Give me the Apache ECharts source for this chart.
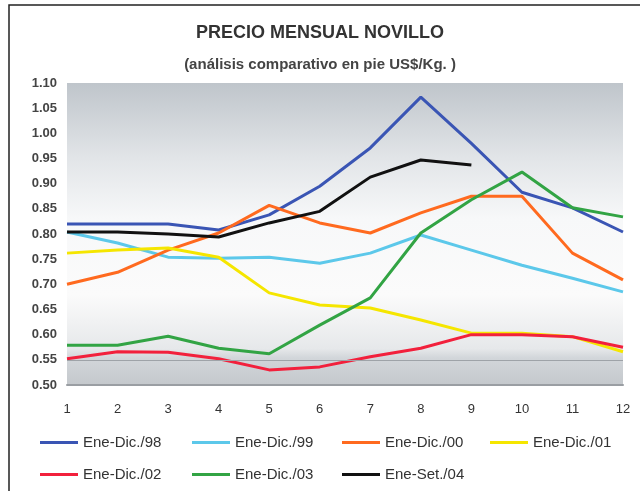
<!DOCTYPE html>
<html><head><meta charset="utf-8">
<script src="https://cdn.jsdelivr.net/npm/echarts@6/dist/echarts.min.js"></script>
<style>html,body{margin:0;padding:0;background:#fff;}#c{width:640px;height:491px;}</style>
</head><body><div id="c"></div>
<script>
const months = ['1','2','3','4','5','6','7','8','9','10','11','12'];
const yTicks = ['0.50','0.55','0.60','0.65','0.70','0.75','0.80','0.85','0.90','0.95','1.00','1.05','1.10'];
const names = ['Ene-Dic./98','Ene-Dic./99','Ene-Dic./00','Ene-Dic./01','Ene-Dic./02','Ene-Dic./03','Ene-Set./04'];
const d98 = [0.820,0.820,0.820,0.808,0.838,0.895,0.971,1.072,0.980,0.883,0.852,0.804];
const d99 = [0.804,0.782,0.754,0.752,0.754,0.742,0.762,0.798,0.768,0.738,0.712,0.685];
const d00 = [0.700,0.724,0.768,0.802,0.857,0.822,0.802,0.842,0.875,0.875,0.762,0.709];
const d01 = [0.762,0.768,0.772,0.754,0.683,0.659,0.653,0.629,0.603,0.603,0.596,0.566];
const d02 = [0.552,0.566,0.565,0.552,0.530,0.536,0.556,0.573,0.600,0.600,0.596,0.575];
const d03 = [0.579,0.579,0.597,0.573,0.562,0.619,0.673,0.802,0.868,0.923,0.852,0.834];
const d04 = [0.804,0.804,0.800,0.794,0.822,0.845,0.913,0.947,0.937];
const colors = ['#3a55b4','#5cc8ea','#ff6a1f','#f5e600','#f2203c','#32a444','#111111'];
const allData = [d98,d99,d00,d01,d02,d03,d04];

const chart = echarts.init(document.getElementById('c'));
const series = allData.map((d,i)=>({
  name: names[i], type:'line', data:d, symbol:'none', smooth:false,
  lineStyle:{width:3,color:colors[i]}, itemStyle:{color:colors[i]},
  z: 3 + (i===6?2:0),
  markLine: i===0 ? {silent:true, symbol:'none', label:{show:false},
    lineStyle:{color:'#9ea3a8',width:1,type:'solid'}, data:[{yAxis:0.55}]} : undefined
}));
const legendLeft = [35,187,337,485,35,187,337];
const legendTop = [430,430,430,430,462,462,462];
const legends = names.map((n,i)=>({
  data:[n], left:legendLeft[i], top:legendTop[i],
  icon:'rect', itemWidth:38, itemHeight:3, selectedMode:false,
  textStyle:{fontFamily:'Liberation Sans', fontSize:15, color:'#333'}
}));
chart.setOption({
  animation:false,
  backgroundColor:'#fff',
  title:[
    {text:'PRECIO MENSUAL NOVILLO', left:'center', top:19,
     textStyle:{fontFamily:'Liberation Sans', fontWeight:'bold', fontSize:18, color:'#333'}},
    {text:'(análisis comparativo en pie US$/Kg. )', left:'center', top:52,
     textStyle:{fontFamily:'Liberation Sans', fontWeight:'bold', fontSize:15, color:'#444'}}
  ],
  legend: legends,
  graphic:[{type:'rect', shape:{x:9,y:5,width:700,height:600}, style:{fill:'none', stroke:'#222', lineWidth:1.5}, silent:true, z:-10}],
  grid:{left:67, right:17, top:83, bottom:106, show:true, borderWidth:0,
    backgroundColor:{type:'linear',x:0,y:0,x2:0,y2:1,colorStops:[
      {offset:0,color:'#bfc5cb'},{offset:0.25,color:'#e2e5e8'},{offset:0.45,color:'#f7f8f9'},
      {offset:0.7,color:'#fbfbfb'},{offset:0.88,color:'#e6e8ea'},{offset:0.91,color:'#d2d6da'},{offset:1,color:'#c4c8cc'}]}},
  xAxis:{type:'category', data:months, boundaryGap:false,
    axisLine:{show:true, lineStyle:{color:'#9a9ea3', width:2}},
    axisTick:{show:false},
    axisLabel:{fontFamily:'Liberation Sans', fontSize:13, color:'#333', margin:18},
    splitLine:{show:false}},
  yAxis:{type:'value', min:0.5, max:1.1, interval:0.05,
    axisLine:{show:false}, axisTick:{show:false},
    axisLabel:{fontFamily:'Liberation Sans', fontSize:13, fontWeight:'bold', color:'#444', margin:10,
      formatter:(v)=>yTicks[Math.round((v-0.5)/0.05)]},
    splitLine:{show:false}},
  series: series
});
</script></body></html>
